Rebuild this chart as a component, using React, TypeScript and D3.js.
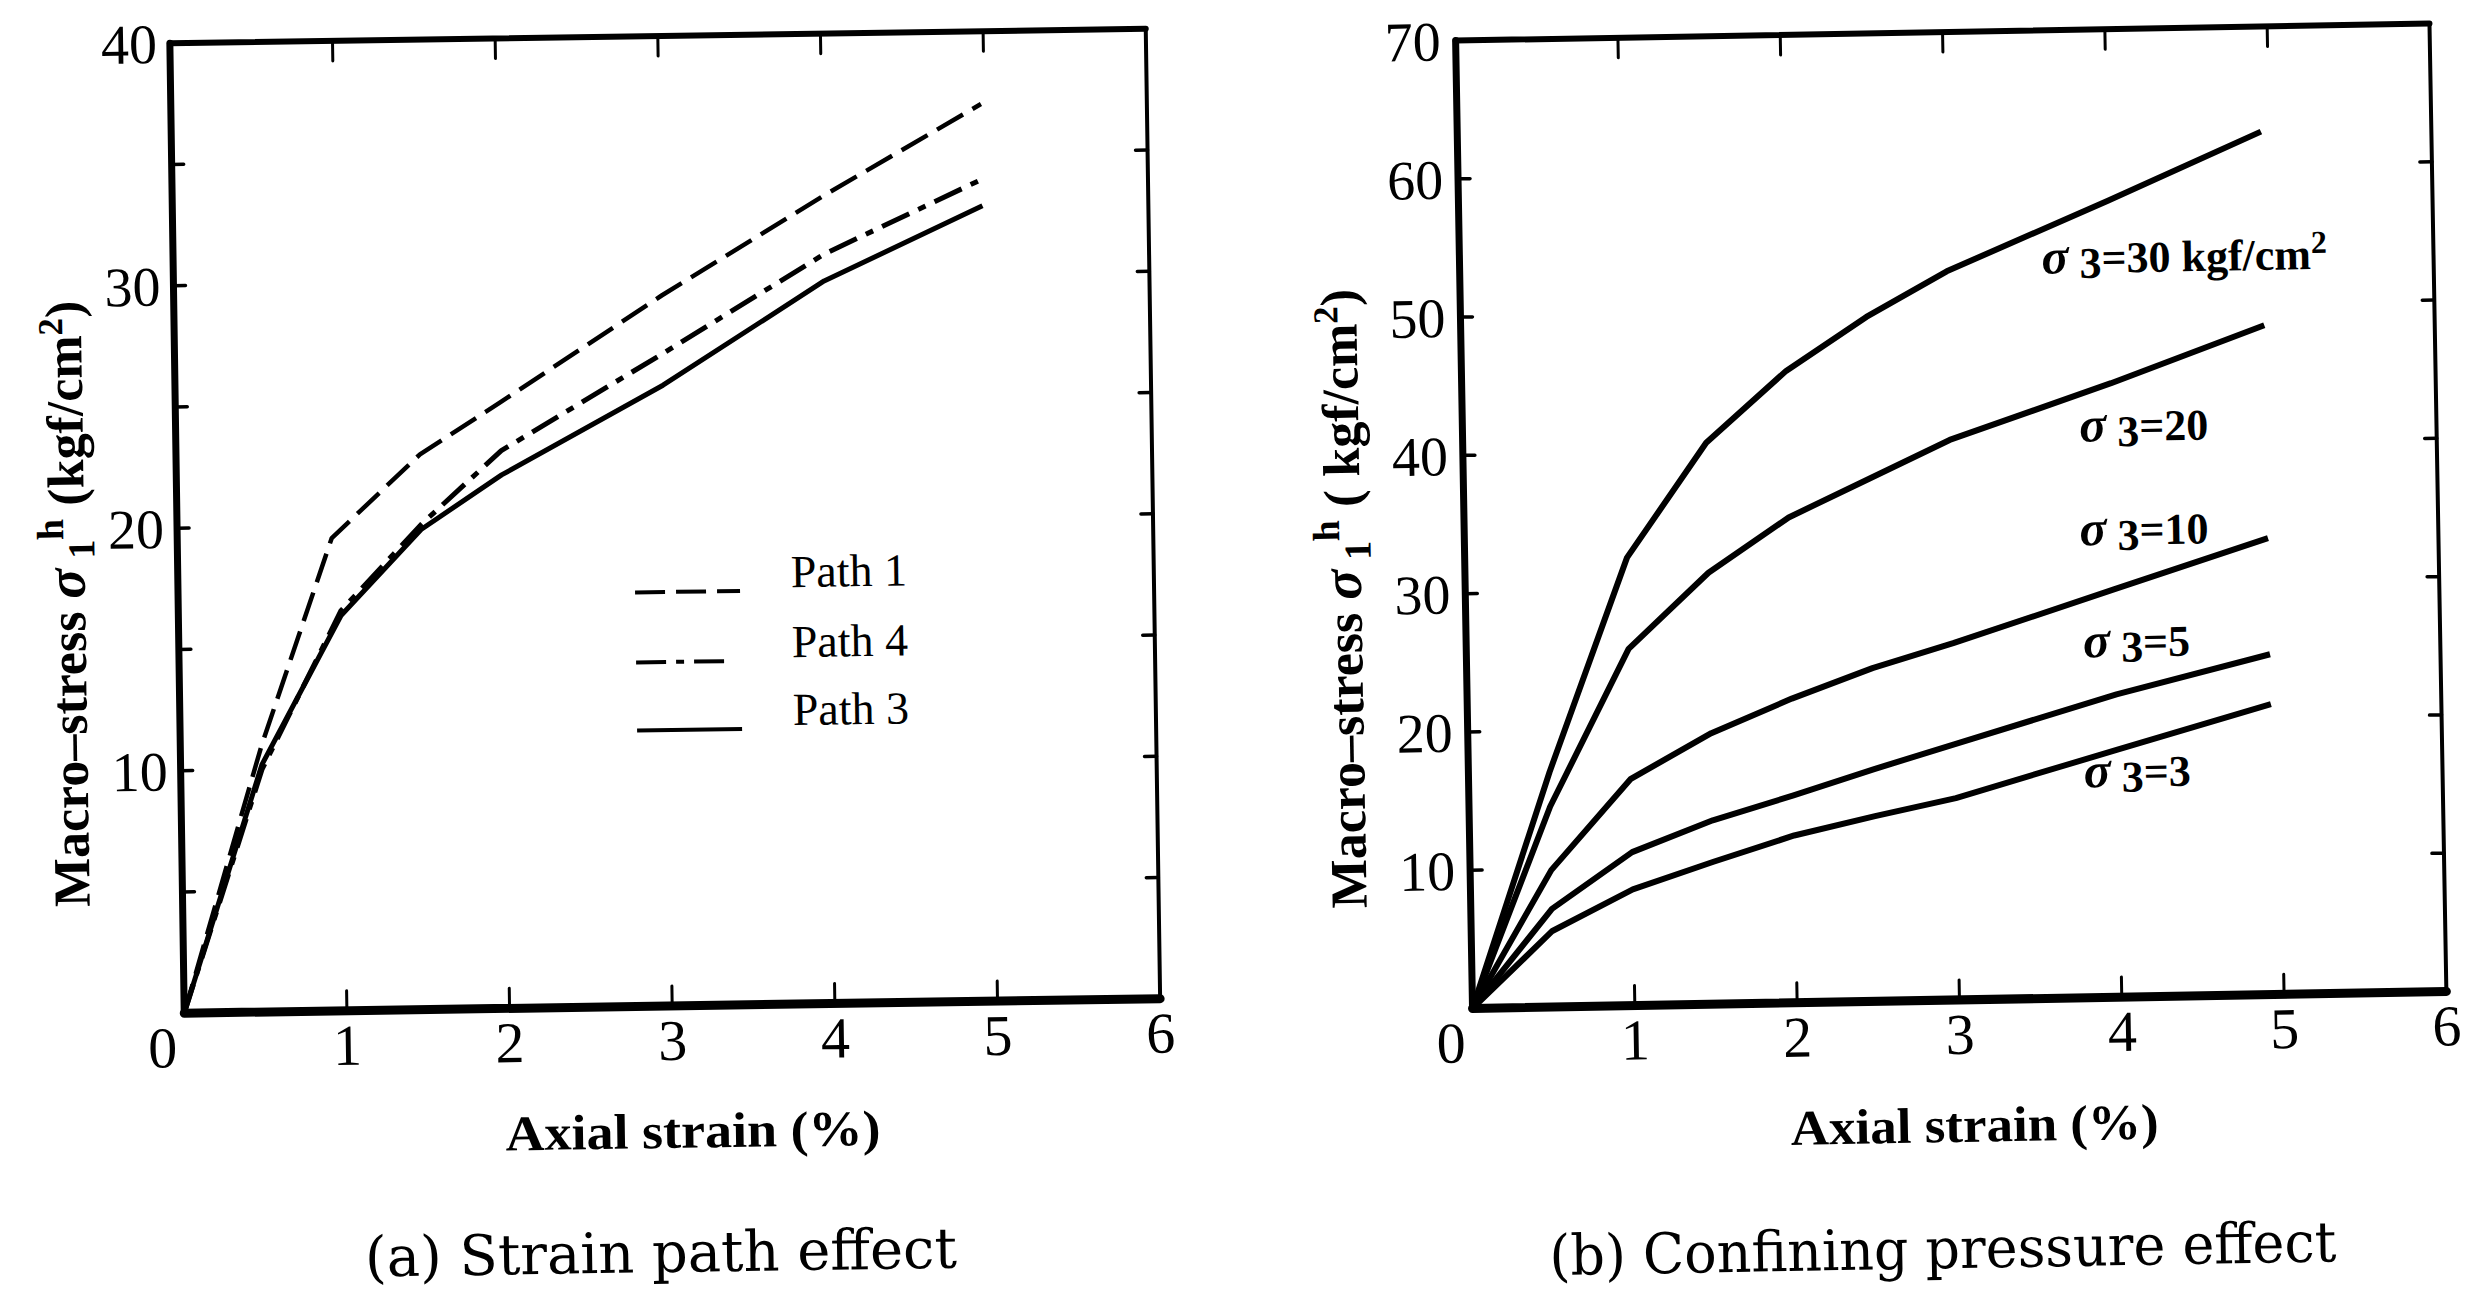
import * as d3 from "d3";

// values
const strainTicks = [0, 1, 2, 3, 4, 5, 6];
const leftStressTicks = [0, 10, 20, 30, 40];
const leftMinorTicks = [5, 10, 15, 20, 25, 30, 35];
const rightStressTicks = [0, 10, 20, 30, 40, 50, 60, 70];
const rightMinorTicks = [10, 20, 30, 40, 50, 60];

// (a) strain path effect
const path1Strain = [0, 0.5, 0.95, 1.5, 2, 3, 4, 4.98];
const path1Stress = [0, 11, 19.5, 22.9, 25, 29.3, 33.3, 37];
const pathStrain = [0, 0.5, 1, 1.5, 2, 3, 4, 4.98];
const path4Stress = [0, 10, 16.5, 20, 23, 26.9, 30.9, 33.9];
const path3Stress = [0, 10.2, 16.3, 19.8, 22, 25.6, 29.8, 32.8];
const pathNames = ["Path 1", "Path 4", "Path 3"];

// (b) confining pressure effect
const confStrain = [0, 0.5, 1, 1.5, 2, 2.5, 3, 4, 4.95];
const conf30 = [0, 17, 32.4, 40.6, 45.7, 49.5, 52.7, 57.6, 62.4];
const conf20 = [0, 14.5, 25.8, 31.2, 35.1, 37.8, 40.5, 44.4, 48.4];
const conf10 = [0, 9.9, 16.4, 19.6, 22.0, 24.1, 25.8, 29.5, 33.0];
const conf5 = [0, 7.1, 11.1, 13.3, 15.0, 16.8, 18.5, 21.9, 24.6];
const conf3 = [0, 5.5, 8.4, 10.3, 12.1, 13.4, 14.6, 17.9, 21.0];
const confNames = ["=30 kgf/cm", "=20", "=10", "=5", "=3"];
const confLabelStrain = [3.585, 3.8, 3.79, 3.8, 3.79];
const confLabelStress = [52.4, 40.2, 32.7, 24.6, 15.2];

const serif = "'Liberation Serif', 'Times New Roman', serif";
const slab = "'DejaVu Serif', serif";

function Frame({ x, y, leftTicks, rightTicks, left, right, top, bottom }: any) {
  return (
    <g stroke="#000" fill="none" strokeLinecap="round">
      <line x1={left} y1={top} x2={left} y2={bottom} strokeWidth={7} />
      <line x1={left} y1={bottom} x2={right} y2={bottom} strokeWidth={9} />
      <line x1={left} y1={top} x2={right} y2={top} strokeWidth={6} />
      <line x1={right} y1={top} x2={right} y2={bottom} strokeWidth={4} />
      {strainTicks.slice(1, 6).map((t) => (
        <g key={"x" + t}>
          <line x1={x(t)} x2={x(t)} y1={bottom} y2={bottom - 20} strokeWidth={3} />
          <line x1={x(t)} x2={x(t)} y1={top} y2={top + 20} strokeWidth={3} />
        </g>
      ))}
      {leftTicks.map((t: number) => (
        <line key={"l" + t} x1={left} x2={left + 12} y1={y(t)} y2={y(t)} strokeWidth={3.5} />
      ))}
      {rightTicks.map((t: number) => (
        <line key={"r" + t} x1={right} x2={right - 12} y1={y(t)} y2={y(t)} strokeWidth={3.5} />
      ))}
    </g>
  );
}

function StrainPanel() {
  const left = 177, right = 1153, top = 36, bottom = 1006;
  const x = d3.scaleLinear([0, 6], [left, right]);
  const y = d3.scaleLinear([0, 40], [bottom, top]);
  const line = d3.line<[number, number]>((d) => x(d[0]), (d) => y(d[1]));
  const series = [
    { xs: path1Strain, ys: path1Stress, dash: "30 11", w: 4.5 },
    { xs: pathStrain, ys: path4Stress, dash: "30 10 8 10", w: 5 },
    { xs: pathStrain, ys: path3Stress, dash: "", w: 5 },
  ];
  return (
    <g transform={`rotate(-0.85 ${(left + right) / 2} ${(top + bottom) / 2})`}>
      <Frame x={x} y={y} leftTicks={leftMinorTicks} rightTicks={leftMinorTicks}
        left={left} right={right} top={top} bottom={bottom} />
      {series.map((s, i) => (
        <path key={i} d={line(s.xs.map((v, j) => [v, s.ys[j]]) as [number, number][]) || ""}
          fill="none" stroke="#000" strokeWidth={s.w} strokeDasharray={s.dash}
          strokeLinejoin="round" />
      ))}
      {pathNames.map((n, i) => {
        const ly = top + [556, 626, 694][i];
        return (
          <g key={n}>
            <line x1={left + 457} x2={left + (i === 1 ? 552 : 562)} y1={ly} y2={ly}
              stroke="#000" strokeWidth={4} strokeDasharray={series[i].dash} />
            <text x={left + 613} y={ly - 3} fontFamily={serif} fontSize={46}>{n}</text>
          </g>
        );
      })}
      {leftStressTicks.slice(1).map((t) => (
        <text key={t} x={left - 13} y={y(t)} dy="0.35em" textAnchor="end"
          fontFamily={serif} fontSize={56}>{t}</text>
      ))}
      {strainTicks.map((t) => (
        <text key={t} x={t === 0 ? left - 22 : x(t)} y={bottom + 54} textAnchor="middle"
          fontFamily={serif} fontSize={58}>{t}</text>
      ))}
      <text x={684} y={1148} textAnchor="middle" fontFamily={serif} fontWeight="bold"
        fontSize={50} textLength={375} lengthAdjust="spacingAndGlyphs">Axial strain (%)</text>
      <text x={650} y={1272} textAnchor="middle" fontFamily={slab} fontSize={56}
        textLength={592} lengthAdjust="spacingAndGlyphs">(a) Strain path effect</text>
      <text transform="translate(84,595) rotate(-90)" textAnchor="middle" fontFamily={serif}
        fontWeight="bold" fontSize={52}>
        Macro–stress <tspan fontStyle="italic" fontSize={56}>σ</tspan>
        <tspan dy={10} fontSize={38}> 1</tspan>
        <tspan dy={-31} fontSize={38}>h</tspan>
        <tspan dy={21}> (kgf/cm</tspan>
        <tspan dy={-19} fontSize={35}>2</tspan>
        <tspan dy={19}>)</tspan>
      </text>
    </g>
  );
}

function PressurePanel() {
  const left = 1464, right = 2438, top = 32, bottom = 1000;
  const x = d3.scaleLinear([0, 6], [left, right]);
  const y = d3.scaleLinear([0, 70], [bottom, top]);
  const line = d3.line<[number, number]>((d) => x(d[0]), (d) => y(d[1]));
  const curves = [conf30, conf20, conf10, conf5, conf3];
  return (
    <g transform={`rotate(-1 ${(left + right) / 2} ${(top + bottom) / 2})`}>
      <Frame x={x} y={y} leftTicks={rightMinorTicks} rightTicks={rightMinorTicks}
        left={left} right={right} top={top} bottom={bottom} />
      {curves.map((c, i) => (
        <path key={i} d={line(confStrain.map((v, j) => [v, c[j]]) as [number, number][]) || ""}
          fill="none" stroke="#000" strokeWidth={6} strokeLinejoin="round" />
      ))}
      {confNames.map((n, i) => (
        <text key={n} x={x(confLabelStrain[i])} y={y(confLabelStress[i])}
          fontFamily={serif} fontWeight="bold" fontSize={44}>
          <tspan fontStyle="italic" fontSize={50}>σ</tspan>
          <tspan dy={5}> 3</tspan>
          <tspan dy={-5}>{n}</tspan>
          {i === 0 && <tspan dy={-16} fontSize={32}>2</tspan>}
        </text>
      ))}
      {rightStressTicks.slice(1).map((t) => (
        <text key={t} x={left - 15} y={y(t)} dy="0.35em" textAnchor="end"
          fontFamily={serif} fontSize={56}>{t}</text>
      ))}
      {strainTicks.map((t) => (
        <text key={t} x={t === 0 ? left - 22 : x(t)} y={bottom + 54} textAnchor="middle"
          fontFamily={serif} fontSize={58}>{t}</text>
      ))}
      <text x={1964} y={1142} textAnchor="middle" fontFamily={serif} fontWeight="bold"
        fontSize={50} textLength={368} lengthAdjust="spacingAndGlyphs">Axial strain (%)</text>
      <text x={1930} y={1268} textAnchor="middle" fontFamily={slab} fontSize={56}
        textLength={787} lengthAdjust="spacingAndGlyphs">(b) Confining pressure effect</text>
      <text transform="translate(1360,588) rotate(-90)" textAnchor="middle" fontFamily={serif}
        fontWeight="bold" fontSize={52}>
        Macro–stress <tspan fontStyle="italic" fontSize={56}>σ</tspan>
        <tspan dy={10} fontSize={38}> 1</tspan>
        <tspan dy={-31} fontSize={38}>h</tspan>
        <tspan dy={21}> ( kgf/cm</tspan>
        <tspan dy={-19} fontSize={35}>2</tspan>
        <tspan dy={19}>)</tspan>
      </text>
    </g>
  );
}

export default function App() {
  return (
    <svg width={2478} height={1296} style={{ position: "absolute", left: 0, top: 0, background: "#fff" }}>
      <rect width={2478} height={1296} fill="#fff" />
      <StrainPanel />
      <PressurePanel />
    </svg>
  );
}
